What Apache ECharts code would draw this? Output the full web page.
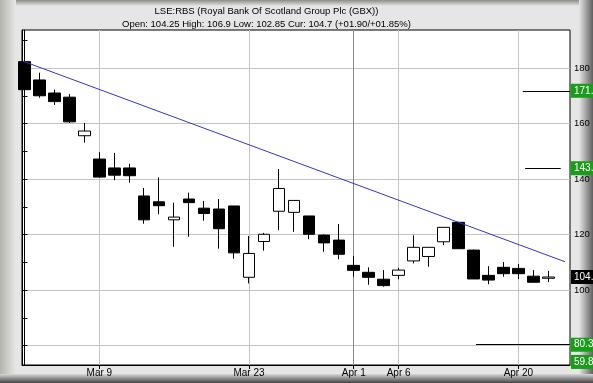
<!DOCTYPE html>
<html><head><meta charset="utf-8">
<script src="https://cdn.jsdelivr.net/npm/echarts@6/dist/echarts.min.js"></script>
<style>html,body{margin:0;padding:0;background:#e6e6e6}#c{width:593px;height:383px}</style>
</head><body><div id="c"></div>
<script>
// ---- data ----
const DATES = ['Mar 2','Mar 3','Mar 4','Mar 5','Mar 6','Mar 9','Mar 10','Mar 11','Mar 12','Mar 13',
  'Mar 16','Mar 17','Mar 18','Mar 19','Mar 20','Mar 23','Mar 24','Mar 25','Mar 26','Mar 27',
  'Mar 30','Mar 31','Apr 1','Apr 2','Apr 3','Apr 6','Apr 7','Apr 8','Apr 9',
  'Apr 14','Apr 15','Apr 16','Apr 17','Apr 20','Apr 21','Apr 22'];
const OPEN  = [182.3,175.7,171.0,169.5,155.6,147.2,144.0,144.0,133.9,131.8,125.3,132.8,129.5,129.2,130.3,104.6,117.5,128.4,128.0,126.7,119.8,118.0,108.9,106.4,103.9,105.3,110.5,112.1,117.4,124.4,114.4,105.3,108.2,107.8,105.0,104.25];
const CLOSE = [172.2,170.0,167.9,160.6,157.3,140.7,141.4,141.2,125.3,130.4,126.3,131.5,127.6,122.1,113.4,113.2,120.1,136.6,132.3,120.1,117.0,112.9,107.1,104.6,101.6,107.2,115.4,115.4,122.6,114.9,104.0,103.6,105.9,105.9,102.8,104.7];
const LOW   = [168.7,169.3,166.7,160.2,153.1,140.5,139.6,138.7,123.9,127.3,115.6,119.2,125.0,114.9,111.3,102.4,114.2,121.6,121.0,118.3,113.8,111.1,104.8,101.9,101.2,103.9,109.6,108.4,116.2,114.9,104.0,102.1,104.8,104.0,102.8,102.85];
const HIGH  = [182.5,178.3,172.2,170.6,160.2,149.7,149.4,145.5,136.8,140.6,131.5,135.1,132.1,132.8,130.3,119.5,120.6,143.6,132.3,126.7,120.1,123.8,112.3,108.2,107.2,108.0,119.7,115.4,122.6,124.6,114.6,108.6,110.1,109.4,107.2,106.9];
const X_LABEL_DATES = ['Mar 9','Mar 23','Apr 1','Apr 6','Apr 20'];
const Y_LABELS = [80,100,120,140,160,180];
const Y_TICKS = [80,90,100,110,120,130,140,150,160,170,180,190];
const TREND_X = [-0.12, 36.12];
const TREND_Y = [182.5, 110.2];
const LEVEL_VALUES = [171.8, 143.9, 80.3];
const LEVEL_TEXT   = ['171.8', '143.9', '80.3'];
const LEVEL_FROM   = [33.3, 33.45, 30.17];
const LEVEL_TO     = [null, 35.83, null];
const LOWER_TARGET = 59.8;
const TITLE = 'LSE:RBS (Royal Bank Of Scotland Group Plc (GBX))';
const SUBTITLE = 'Open: 104.25 High: 106.9 Low: 102.85 Cur: 104.7 (+01.90/+01.85%)';
const CUR = 104.7;

// ---- layout constants ----
const X_MIN = -0.167, X_MAX = 36.45;
const Y_MIN = 73, Y_MAX = 193.7;
const FONT = "'Liberation Sans', Arial, sans-serif";
const GREEN = '#1c9c1c';
const NONE = 'rgba(0,0,0,0)';

const candles = DATES.map((d, i) => [i, OPEN[i], CLOSE[i], LOW[i], HIGH[i]]);
const xLabelIdx = X_LABEL_DATES.map(d => DATES.indexOf(d));

const boxLabel = (text, bg) => ({
  show: true, position: 'end', distance: 1, formatter: text,
  color: '#fff', backgroundColor: bg, fontFamily: FONT, fontSize: 10,
  padding: [2, 3, 1, 3], lineHeight: 11
});

const markData = [];
LEVEL_VALUES.forEach((v, k) => {
  markData.push([
    { coord: [LEVEL_FROM[k], v], lineStyle: { color: '#000', width: 1, type: 'solid' }, label: { show: false } },
    { coord: [LEVEL_TO[k] == null ? X_MAX : LEVEL_TO[k], v] }
  ]);
  markData.push([
    { coord: [X_MIN, v], lineStyle: { color: NONE, type: 'solid' }, label: boxLabel(LEVEL_TEXT[k], GREEN) },
    { coord: [X_MAX, v] }
  ]);
});
markData.push([
  { coord: [X_MIN, CUR], lineStyle: { color: NONE, type: 'solid' }, label: boxLabel(String(CUR), '#000') },
  { coord: [X_MAX, CUR] }
]);
const lowTagY = Math.max(LOWER_TARGET, Y_MIN + 1.1);
markData.push([
  { coord: [X_MIN, lowTagY], lineStyle: { color: NONE, type: 'solid' }, label: boxLabel(String(LOWER_TARGET), GREEN) },
  { coord: [X_MAX, lowTagY] }
]);

const chart = echarts.init(document.getElementById('c'), null, { renderer: 'canvas' });
chart.setOption({
  animation: false,
  backgroundColor: '#e6e6e6',
  textStyle: { fontFamily: FONT },
  graphic: [
    { type: 'rect', z: -10, shape: { x: 0, y: 0, width: 593, height: 6 },
      style: { fill: new echarts.graphic.LinearGradient(0, 0, 0, 1, [{ offset: 0, color: '#8c8c88' }, { offset: 1, color: '#e6e6e6' }]) } },
    { type: 'rect', z: -10, shape: { x: 0, y: 0, width: 16, height: 383 },
      style: { fill: new echarts.graphic.LinearGradient(0, 0, 1, 0, [{ offset: 0, color: '#b4b4ac' }, { offset: 1, color: '#e6e6e6' }]) } },
    { type: 'rect', z: -10, shape: { x: 579, y: 0, width: 14, height: 383 },
      style: { fill: new echarts.graphic.LinearGradient(0, 0, 1, 0, [{ offset: 0, color: '#e6e6e6' }, { offset: 1, color: '#606060' }]) } },
    { type: 'rect', z: -9, shape: { x: 0, y: 374, width: 593, height: 9 },
      style: { fill: new echarts.graphic.LinearGradient(0, 0, 0, 1, [{ offset: 0, color: '#d8d8d8' }, { offset: 1, color: '#444444' }]) } }
  ],
  title: {
    text: TITLE, subtext: SUBTITLE, left: 261.5, top: 1, textAlign: 'center', itemGap: 3,
    textStyle: { fontFamily: FONT, fontSize: 9.5, fontWeight: 'normal', color: '#000' },
    subtextStyle: { fontFamily: FONT, fontSize: 9.5, color: '#000' }
  },
  grid: { left: 22, right: 23, top: 30, bottom: 18, show: true, backgroundColor: '#fff', borderColor: '#000', borderWidth: 1 },
  xAxis: [{
    type: 'value', min: X_MIN, max: X_MAX,
    axisLine: { show: true, lineStyle: { color: '#000' } },
    axisTick: { show: true, length: 4, customValues: xLabelIdx, lineStyle: { color: '#000' } },
    axisLabel: { customValues: xLabelIdx, formatter: v => DATES[Math.round(v)], color: '#000', fontSize: 10, fontFamily: FONT, margin: 3 },
    splitLine: { show: true, lineStyle: { color: ['#c4c4c4', '#c4c4c4', '#8a8a8a', '#c4c4c4', '#c4c4c4'], width: 1 } }
  }],
  yAxis: [{
    type: 'value', position: 'right', min: Y_MIN, max: Y_MAX,
    axisLine: { show: true, lineStyle: { color: '#000' } },
    axisTick: { show: true, length: 3, customValues: Y_TICKS, lineStyle: { color: '#000' } },
    axisLabel: { customValues: Y_LABELS, color: '#000', fontSize: 9.5, fontFamily: FONT, margin: 4 },
    splitLine: { show: false }
  }, {
    type: 'value', position: 'left', min: Y_MIN, max: Y_MAX,
    axisLine: { show: true, lineStyle: { color: '#000' } },
    axisTick: { show: true, inside: true, length: 3, customValues: Y_TICKS, lineStyle: { color: '#000' } },
    axisLabel: { show: false },
    splitLine: { show: false }
  }, {
    type: 'value', position: 'right', min: Y_MIN, max: Y_MAX,
    axisLine: { show: false },
    axisTick: { show: false, customValues: Y_LABELS },
    axisLabel: { show: false },
    splitLine: { show: true, lineStyle: { color: '#c4c4c4', width: 1 } }
  }],
  series: [{
    type: 'candlestick', xAxisIndex: 0, yAxisIndex: 0,
    data: candles, encode: { x: 0, y: [1, 2, 3, 4] },
    barWidth: 12, clip: true,
    itemStyle: { color: '#fff', color0: '#000', borderColor: '#000', borderColor0: '#000', borderColorDoji: '#000', borderWidth: 1 }
  }, {
    type: 'line', xAxisIndex: 0, yAxisIndex: 0,
    data: TREND_X.map((x, i) => [x, TREND_Y[i]]),
    symbol: 'none', lineStyle: { color: '#3535c8', width: 1 }, clip: false, z: 3,
    markLine: { silent: true, symbol: ['none', 'none'], animation: false, lineStyle: { type: 'solid' }, data: markData }
  }]
});
</script></body></html>
